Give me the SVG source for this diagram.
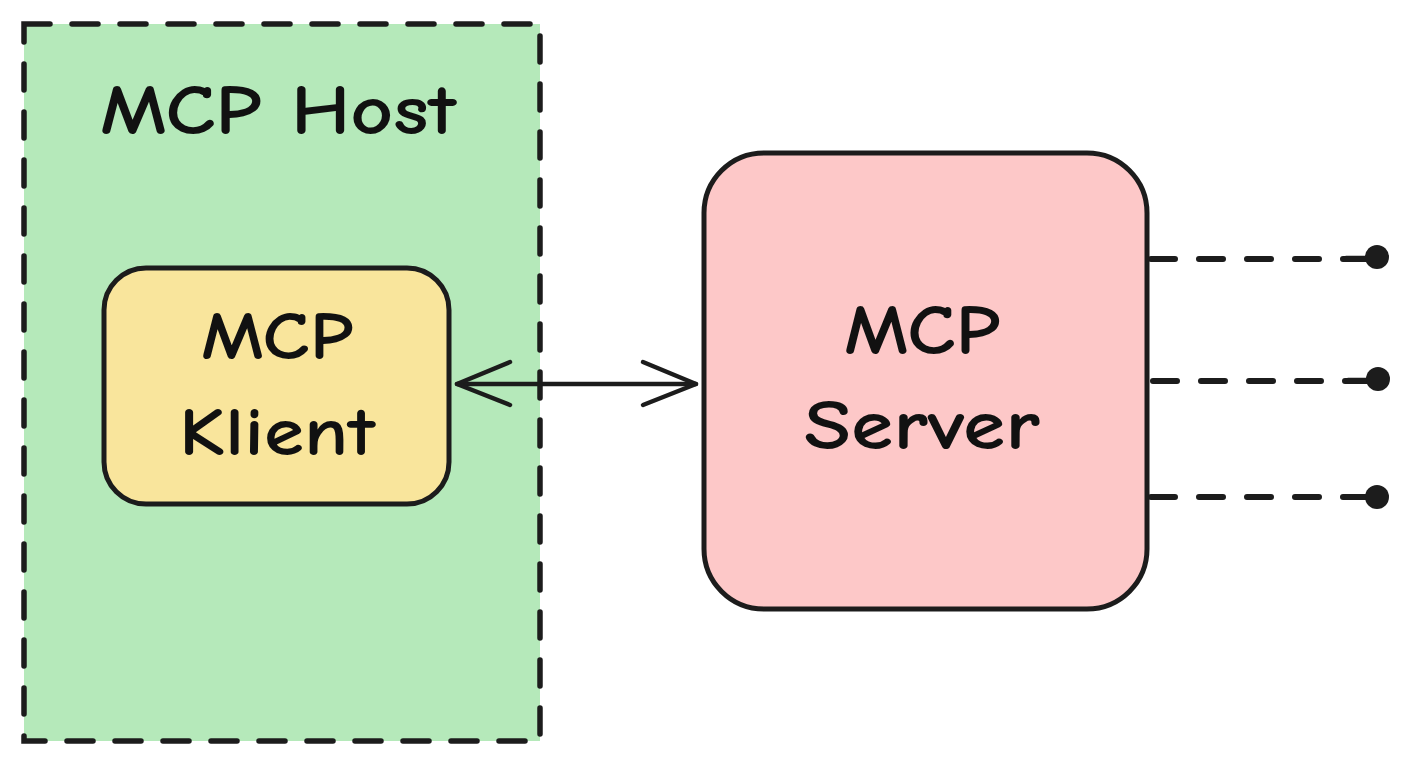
<svg xmlns="http://www.w3.org/2000/svg" width="1408" height="768" viewBox="0 0 1408 768">
<style>
.lbl{font-family:"Comic Neue","Open Sans","Liberation Sans",sans-serif;font-weight:700;fill:#111;text-anchor:middle}
.edge{stroke:#1c1c1c;stroke-width:4.5;fill:none;stroke-linecap:round;stroke-linejoin:round}
.dash{stroke:#1c1c1c;stroke-width:6;fill:none;stroke-linecap:round;stroke-dasharray:24 24}
</style>
<rect width="1408" height="768" fill="#ffffff"/>
<g id="host">
<rect x="24" y="24" width="516" height="717" fill="#b5e9ba" stroke="#1c1c1c" stroke-width="5.5" stroke-dasharray="26 22" stroke-linecap="round"/>
<text class="lbl" x="278" y="134" font-size="70" textLength="356" lengthAdjust="spacingAndGlyphs">MCP Host</text>
</g>
<g id="klient">
<rect x="104" y="268" width="345" height="236" rx="42" ry="42" fill="#f9e59c" stroke="#1c1c1c" stroke-width="5"/>
<text class="lbl" x="277" y="359" font-size="68" textLength="152" lengthAdjust="spacingAndGlyphs">MCP</text>
<text class="lbl" x="277" y="455" font-size="68" textLength="196" lengthAdjust="spacingAndGlyphs">Klient</text>
</g>
<g id="server">
<rect x="704" y="153" width="443" height="456" rx="60" ry="60" fill="#fdc8c8" stroke="#1c1c1c" stroke-width="5"/>
<text class="lbl" x="922" y="354" font-size="70" textLength="156" lengthAdjust="spacingAndGlyphs">MCP</text>
<text class="lbl" x="922" y="449" font-size="70" textLength="236" lengthAdjust="spacingAndGlyphs">Server</text>
</g>
<g id="connectors">
<line class="edge" x1="457" y1="384" x2="696" y2="384"/>
<polyline class="edge" points="510,362 457,384 510,405"/>
<polyline class="edge" points="643,362 696,384 643,405"/>
<line class="dash" x1="1151" y1="259" x2="1370" y2="259"/>
<line class="dash" x1="1153" y1="381" x2="1372" y2="381"/>
<line class="dash" x1="1151" y1="497" x2="1370" y2="497"/>
<line class="edge" x1="1346" y1="258" x2="1372" y2="258" stroke-width="6"/>
<line class="edge" x1="1348" y1="380" x2="1374" y2="380" stroke-width="6"/>
<line class="edge" x1="1346" y1="497" x2="1372" y2="497" stroke-width="6"/>
<circle cx="1377" cy="257" r="12" fill="#1c1c1c"/>
<circle cx="1378" cy="379" r="12" fill="#1c1c1c"/>
<circle cx="1377" cy="497" r="12" fill="#1c1c1c"/>
</g>
</svg>
